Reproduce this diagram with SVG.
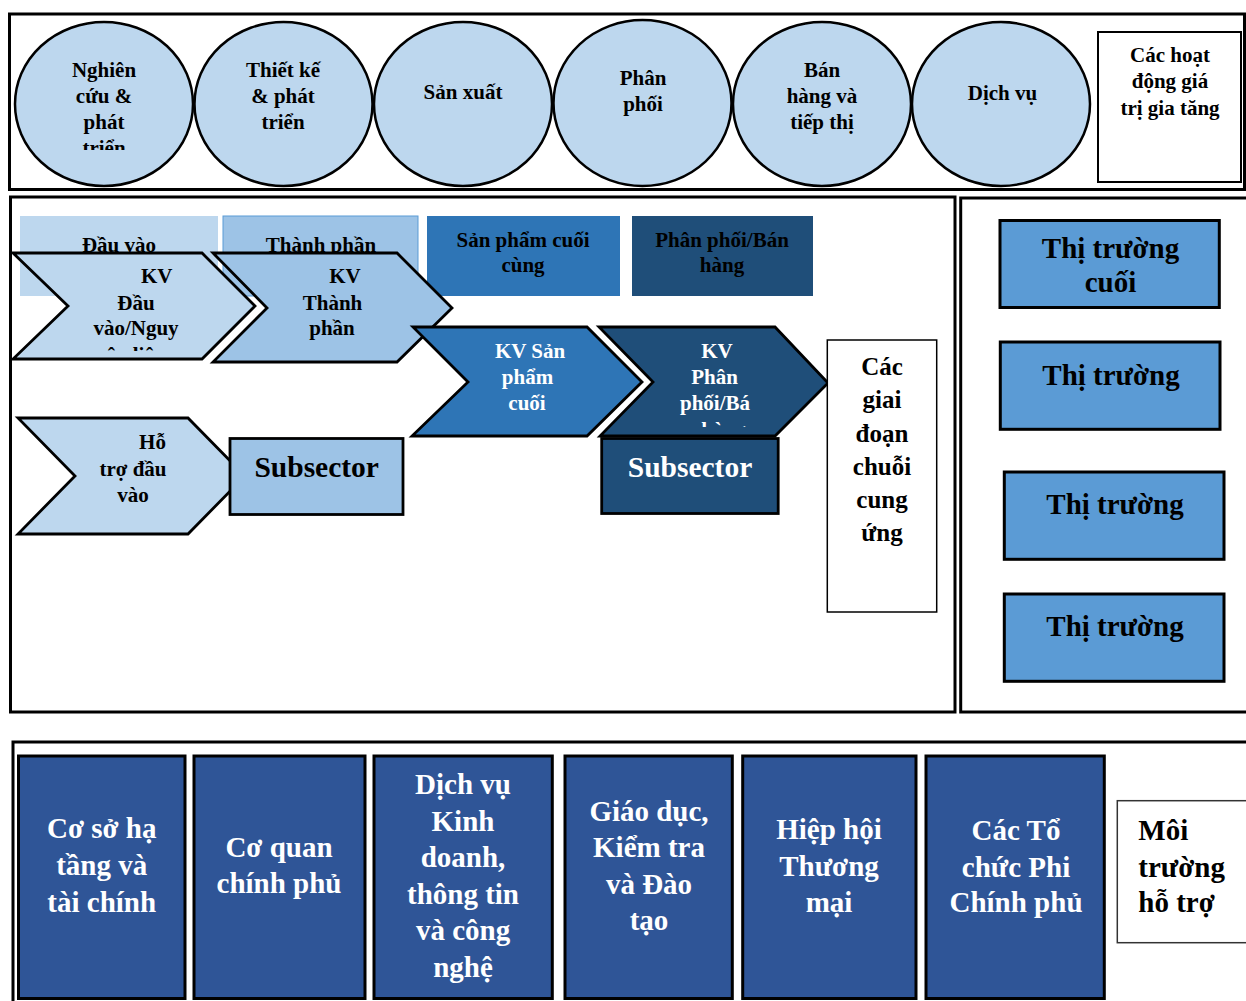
<svg xmlns="http://www.w3.org/2000/svg" width="1246" height="1001" viewBox="0 0 1246 1001">
  <style>
    .t{font-family:"Liberation Serif","Times New Roman",serif;font-weight:bold;fill:#000}
    .m{text-anchor:middle}
    .w{fill:#fff}
    .f21{font-size:21px}
    .f25{font-size:25px}
    .f29{font-size:29px}
    .f30{font-size:29.5px}
    .frame{fill:none;stroke:#000;stroke-width:3}
    .bubble{fill:#BDD7EE;stroke:#000;stroke-width:2.5}
    .chev{stroke:#000;stroke-width:2.8;stroke-linejoin:miter}
    .mkt{fill:#5B9BD5;stroke:#000;stroke-width:3}
    .sup{fill:#2F5597;stroke:#000;stroke-width:3}
  </style>
  <defs>
    <clipPath id="clipRd"><rect x="0" y="0" width="1246" height="150"/></clipPath>
    <clipPath id="clipIn"><rect x="0" y="0" width="1246" height="351"/></clipPath>
    <clipPath id="clipDist"><rect x="0" y="0" width="1246" height="427"/></clipPath>
  </defs>

  <rect x="0" y="0" width="1246" height="1001" fill="#fff"/>

  <!-- outer frames -->
  <g id="frames">
    <rect class="frame" x="9.5" y="14" width="1235" height="175.5"/>
    <rect class="frame" x="10.5" y="197" width="944.5" height="515" stroke-width="2.5"/>
    <rect class="frame" x="960.7" y="198" width="300" height="514" stroke-width="2.5"/>
    <rect class="frame" x="13" y="742" width="1260" height="300"/>
  </g>

  <!-- value-added activities row -->
  <g id="act-rd">
    <ellipse class="bubble" cx="104" cy="104" rx="89" ry="82"/>
    <g clip-path="url(#clipRd)">
      <text class="t m f21" x="104" y="77">Nghiên</text>
      <text class="t m f21" x="104" y="103">cứu &amp;</text>
      <text class="t m f21" x="104" y="129">phát</text>
      <text class="t m f21" x="104" y="155">triển</text>
    </g>
  </g>
  <g id="act-design">
    <ellipse class="bubble" cx="283.5" cy="104" rx="89" ry="82"/>
    <text class="t m f21" x="283" y="77">Thiết kế</text>
    <text class="t m f21" x="283" y="103">&amp; phát</text>
    <text class="t m f21" x="283" y="129">triển</text>
  </g>
  <g id="act-production">
    <ellipse class="bubble" cx="463" cy="104" rx="89" ry="82"/>
    <text class="t m f21" x="463" y="99">Sản xuất</text>
  </g>
  <g id="act-distribution">
    <ellipse class="bubble" cx="642.5" cy="103" rx="89" ry="83"/>
    <text class="t m f21" x="643" y="85">Phân</text>
    <text class="t m f21" x="643" y="111">phối</text>
  </g>
  <g id="act-sales">
    <ellipse class="bubble" cx="822" cy="104" rx="89" ry="82"/>
    <text class="t m f21" x="822" y="77">Bán</text>
    <text class="t m f21" x="822" y="103">hàng và</text>
    <text class="t m f21" x="822" y="129">tiếp thị</text>
  </g>
  <g id="act-services">
    <ellipse class="bubble" cx="1001" cy="104" rx="89" ry="82"/>
    <text class="t m f21" x="1002.5" y="100">Dịch vụ</text>
  </g>
  <g id="label-activities">
    <rect x="1098" y="32" width="143" height="150" fill="#fff" stroke="#000" stroke-width="2"/>
    <text class="t m f21" x="1170" y="62">Các hoạt</text>
    <text class="t m f21" x="1170" y="88">động giá</text>
    <text class="t m f21" x="1170" y="115">trị gia tăng</text>
  </g>

  <!-- stage headers -->
  <g id="hdr-input">
    <rect x="20" y="216" width="198" height="80" fill="#BDD7EE"/>
    <text class="t m f21" x="119" y="252">Đầu vào</text>
  </g>
  <g id="hdr-component">
    <rect x="223" y="216" width="195" height="80" fill="#9DC3E6" stroke="#5B9BD5" stroke-width="1"/>
    <text class="t m f21" x="321" y="252">Thành phần</text>
  </g>
  <g id="hdr-final">
    <rect x="427" y="216" width="193" height="80" fill="#2E75B6"/>
    <text class="t m f21" x="523" y="247">Sản phẩm cuối</text>
    <text class="t m f21" x="523" y="272">cùng</text>
  </g>
  <g id="hdr-dist">
    <rect x="632" y="216" width="181" height="80" fill="#1F4E79"/>
    <text class="t m f21" x="722" y="247">Phân phối/Bán</text>
    <text class="t m f21" x="722" y="272">hàng</text>
  </g>

  <!-- sector chevrons -->
  <g id="sec-input">
    <polygon class="chev" fill="#BDD7EE" points="13,253 202,253 255,306 202,359 13,359 68,306"/>
    <g clip-path="url(#clipIn)">
      <text class="t m f21" x="156.7" y="283">KV</text>
      <text class="t m f21" x="136" y="310">Đầu</text>
      <text class="t m f21" x="136" y="335">vào/Nguy</text>
      <text class="t m f21" x="136" y="362">ên liệu</text>
    </g>
  </g>
  <g id="sec-component">
    <polygon class="chev" fill="#9DC3E6" points="213,253 397,253 452,308 397,362 213,362 267,308"/>
    <text class="t m f21" x="345" y="283">KV</text>
    <text class="t m f21" x="332.5" y="310">Thành</text>
    <text class="t m f21" x="332" y="335">phần</text>
  </g>
  <g id="sec-final">
    <polygon class="chev" fill="#2E75B6" points="413,327 587,327 642,382 587,436 412,436 468,382"/>
    <text class="t m f21 w" x="530" y="357.7">KV Sản</text>
    <text class="t m f21 w" x="527.5" y="384">phẩm</text>
    <text class="t m f21 w" x="527" y="410">cuối</text>
  </g>
  <g id="sec-dist">
    <polygon class="chev" fill="#1F4E79" points="599,327 775,327 828,383 775,436 600,436 653,382"/>
    <g clip-path="url(#clipDist)">
      <text class="t m f21 w" x="717" y="357.7">KV</text>
      <text class="t m f21 w" x="714.5" y="384">Phân</text>
      <text class="t m f21 w" x="715" y="410">phối/Bá</text>
      <text class="t m f21 w" x="715" y="437">n hàng</text>
    </g>
  </g>
  <g id="sec-support">
    <polygon class="chev" fill="#BDD7EE" points="18,418 188,418 245,476 188,534 18,534 75,476"/>
    <text class="t m f21" x="152.5" y="449">Hỗ</text>
    <text class="t m f21" x="133" y="476">trợ đầu</text>
    <text class="t m f21" x="133" y="502">vào</text>
  </g>
  <g id="subsector-1">
    <rect x="230" y="438.5" width="173" height="76" fill="#9DC3E6" stroke="#000" stroke-width="2.8"/>
    <text class="t m f30" x="316.7" y="477">Subsector</text>
  </g>
  <g id="subsector-2">
    <rect x="601.7" y="438.5" width="176.5" height="75" fill="#1F4E79" stroke="#000" stroke-width="2.8"/>
    <text class="t m f30 w" x="690" y="477">Subsector</text>
  </g>
  <g id="label-stages">
    <rect x="827.3" y="340" width="109.4" height="272" fill="#fff" stroke="#000" stroke-width="1.5"/>
    <text class="t m f25" x="882" y="375">Các</text>
    <text class="t m f25" x="882" y="408">giai</text>
    <text class="t m f25" x="882" y="441.5">đoạn</text>
    <text class="t m f25" x="882" y="475">chuỗi</text>
    <text class="t m f25" x="882" y="508">cung</text>
    <text class="t m f25" x="882" y="541">ứng</text>
  </g>

  <!-- markets -->
  <g id="market-final">
    <rect class="mkt" x="1000" y="220.5" width="219.3" height="87"/>
    <text class="t m f29" x="1110.5" y="258">Thị trường</text>
    <text class="t m f29" x="1110.5" y="291.5">cuối</text>
  </g>
  <g id="market-2">
    <rect class="mkt" x="1000.3" y="342" width="219.7" height="87.3"/>
    <text class="t m f29" x="1111" y="385">Thị trường</text>
  </g>
  <g id="market-3">
    <rect class="mkt" x="1004.3" y="472" width="219.7" height="87.3"/>
    <text class="t m f29" x="1115" y="514.3">Thị trường</text>
  </g>
  <g id="market-4">
    <rect class="mkt" x="1004.3" y="594" width="219.7" height="87.3"/>
    <text class="t m f29" x="1115" y="636.3">Thị trường</text>
  </g>

  <!-- supporting environment -->
  <g id="sup-infra">
    <rect class="sup" x="18.5" y="756" width="166.5" height="242.5"/>
    <text class="t m f29 w" x="101.7" y="838.3">Cơ sở hạ</text>
    <text class="t m f29 w" x="101.7" y="875">tầng và</text>
    <text class="t m f29 w" x="101.7" y="911.7">tài chính</text>
  </g>
  <g id="sup-gov">
    <rect class="sup" x="194" y="756" width="171" height="242.5"/>
    <text class="t m f29 w" x="279" y="856.7">Cơ quan</text>
    <text class="t m f29 w" x="279" y="893.3">chính phủ</text>
  </g>
  <g id="sup-bds">
    <rect class="sup" x="374" y="756" width="178.3" height="242.5"/>
    <text class="t m f29 w" x="463" y="794">Dịch vụ</text>
    <text class="t m f29 w" x="463" y="830.5">Kinh</text>
    <text class="t m f29 w" x="463" y="867">doanh,</text>
    <text class="t m f29 w" x="463" y="903.5">thông tin</text>
    <text class="t m f29 w" x="463" y="940">và công</text>
    <text class="t m f29 w" x="463" y="976.5">nghệ</text>
  </g>
  <g id="sup-edu">
    <rect class="sup" x="565" y="756" width="167.3" height="242.5"/>
    <text class="t m f29 w" x="649" y="820.7">Giáo dục,</text>
    <text class="t m f29 w" x="649" y="857.3">Kiểm tra</text>
    <text class="t m f29 w" x="649" y="894">và Đào</text>
    <text class="t m f29 w" x="649" y="930">tạo</text>
  </g>
  <g id="sup-assoc">
    <rect class="sup" x="742.7" y="756" width="173.3" height="242.5"/>
    <text class="t m f29 w" x="829" y="839.3">Hiệp hội</text>
    <text class="t m f29 w" x="829" y="875.7">Thương</text>
    <text class="t m f29 w" x="829" y="911.7">mại</text>
  </g>
  <g id="sup-ngo">
    <rect class="sup" x="926" y="756" width="178.3" height="242.5"/>
    <text class="t m f29 w" x="1016" y="840">Các Tổ</text>
    <text class="t m f29 w" x="1016" y="876.7">chức Phi</text>
    <text class="t m f29 w" x="1016" y="911.7">Chính phủ</text>
  </g>
  <g id="label-support">
    <rect x="1117.3" y="800.7" width="140" height="142" fill="#fff" stroke="#333" stroke-width="1.5"/>
    <text class="t f29" x="1138.3" y="840">Môi</text>
    <text class="t f29" x="1138.3" y="876.7">trường</text>
    <text class="t f29" x="1138.3" y="911.7">hỗ trợ</text>
  </g>
</svg>
